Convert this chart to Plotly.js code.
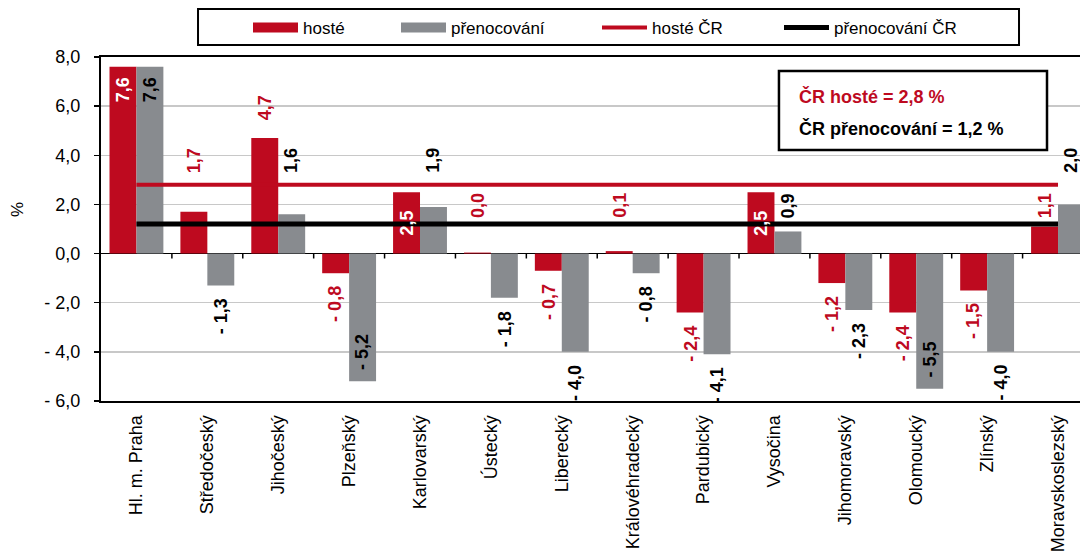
<!DOCTYPE html>
<html>
<head>
<meta charset="utf-8">
<script src="https://cdn.plot.ly/plotly-3.0.1.min.js"></script>
<style>html,body{margin:0;padding:0;background:#fff;}#chart{width:1080px;height:559px;}</style>
</head>
<body>
<div id="chart"></div>
<script>
// ---- data ----
const categories = ["Hl. m. Praha","Středočeský","Jihočeský","Plzeňský","Karlovarský","Ústecký","Liberecký","Královéhradecký","Pardubický","Vysočina","Jihomoravský","Olomoucký","Zlínský","Moravskoslezský"];
const hoste = [7.6, 1.7, 4.7, -0.8, 2.5, 0.04, -0.7, 0.1, -2.4, 2.5, -1.2, -2.4, -1.5, 1.1];
const prenocovani = [7.6, -1.3, 1.6, -5.2, 1.9, -1.8, -4.0, -0.8, -4.1, 0.9, -2.3, -5.5, -4.0, 2.0];
const crHoste = 2.8;
const crPrenocovani = 1.2;
const seriesNames = ["hosté", "přenocování", "hosté ČR", "přenocování ČR"];
const yTickVals = [-6, -4, -2, 0, 2, 4, 6, 8];
const yTickText = ["- 6,0", "- 4,0", "- 2,0", "0,0", "2,0", "4,0", "6,0", "8,0"];
const yTitle = "%";

// ---- styles ----
const RED = "#BE0A1F";
const GRAY = "#888B8F";
const FONT = "Liberation Sans, Arial, sans-serif";
const BARGAP = 0.24;
const legendX = [248, 396, 597, 779]; // px from left of page for each legend entry

function fmt(v) {
  const s = Math.abs(v).toFixed(1).replace(".", ",");
  return v < 0 ? "- " + s : s;
}

function labelSpec(v, s) {
  const insideColor = s === 0 ? "white" : "black";
  const outColor = s === 0 ? RED : "black";
  if (v >= 6) return {y: v, yanchor: "top", yshift: -8, color: insideColor};
  if (v <= -5) return {y: v, yanchor: "bottom", yshift: 9, color: insideColor};
  if (v < 0) return {y: v, yanchor: "top", yshift: -11, color: outColor};
  if (v < crPrenocovani) return {y: crPrenocovani, yanchor: "bottom", yshift: 4, color: outColor};
  if (v < crHoste) {
    if (s === 0 && v >= 2) return {y: v / 2, yanchor: "middle", yshift: 0, color: "white"};
    return {y: crHoste, yanchor: "bottom", yshift: 10, color: outColor};
  }
  return {y: v, yanchor: "bottom", yshift: 16, color: outColor};
}

const traces = [
  {type: "bar", name: seriesNames[0], x: categories, y: hoste, marker: {color: RED}, showlegend: false},
  {type: "bar", name: seriesNames[1], x: categories, y: prenocovani, marker: {color: GRAY}, showlegend: false},
  {type: "scatter", mode: "lines", name: seriesNames[2], x: [categories[0], categories[categories.length - 1]], y: [crHoste, crHoste], line: {color: RED, width: 4}, showlegend: false},
  {type: "scatter", mode: "lines", name: seriesNames[3], x: [categories[0], categories[categories.length - 1]], y: [crPrenocovani, crPrenocovani], line: {color: "black", width: 5}, showlegend: false},
  // legend entries (one legend per entry so spacing matches the original)
  {type: "scatter", mode: "lines", name: seriesNames[0], x: [null], y: [null], line: {color: RED, width: 11}, showlegend: true, legend: "legend"},
  {type: "scatter", mode: "lines", name: seriesNames[1], x: [null], y: [null], line: {color: GRAY, width: 11}, showlegend: true, legend: "legend2"},
  {type: "scatter", mode: "lines", name: seriesNames[2], x: [null], y: [null], line: {color: RED, width: 4}, showlegend: true, legend: "legend3"},
  {type: "scatter", mode: "lines", name: seriesNames[3], x: [null], y: [null], line: {color: "black", width: 5}, showlegend: true, legend: "legend4"}
];

const annotations = [];
const off = (1 - BARGAP) / 4;
[hoste, prenocovani].forEach((arr, s) => {
  arr.forEach((v, i) => {
    const spec = labelSpec(v, s);
    annotations.push({
      x: i + (s === 0 ? -off : off), xref: "x", y: spec.y, yref: "y",
      text: "<b>" + fmt(v) + "</b>", showarrow: false, textangle: -90,
      xanchor: "center", yanchor: spec.yanchor, yshift: spec.yshift,
      font: {family: FONT, size: 18, color: spec.color}
    });
  });
});
annotations.push(
  {xref: "paper", yref: "paper", x: 0.7109, y: 0.8846, xanchor: "left", yanchor: "middle", showarrow: false,
   text: "<b>ČR hosté = " + fmt(crHoste) + " %</b>", font: {family: FONT, size: 18, color: RED}},
  {xref: "paper", yref: "paper", x: 0.7109, y: 0.7936, xanchor: "left", yanchor: "middle", showarrow: false,
   text: "<b>ČR přenocování = " + fmt(crPrenocovani) + " %</b>", font: {family: FONT, size: 18, color: "black"}},
  {xref: "paper", yref: "paper", x: -0.0858, y: 0.555, xanchor: "center", yanchor: "middle", showarrow: false, textangle: -90,
   text: yTitle, font: {family: FONT, size: 17, color: "black"}}
);

const shapes = [];
for (let i = 0; i < categories.length - 1; i++) {
  shapes.push({type: "line", xref: "x", yref: "y", x0: i + 0.5, x1: i + 0.5, y0: 0, y1: -0.2, line: {color: "black", width: 1.5}});
}
shapes.push(
  {type: "rect", xref: "paper", yref: "paper", x0: 0.0991, x1: 0.9377, y0: 1.0349, y1: 1.1395, line: {color: "black", width: 2}, fillcolor: "rgba(0,0,0,0)"},
  {type: "rect", xref: "paper", yref: "paper", x0: 0.6925, x1: 0.9663, y0: 0.7297, y1: 0.9593, line: {color: "black", width: 2.5}, fillcolor: "white", layer: "above"}
);

function legendLayout(px) {
  return {orientation: "h", xref: "container", yref: "container", x: px / 1080, y: 0.95, xanchor: "left", yanchor: "middle",
          bgcolor: "rgba(0,0,0,0)", borderwidth: 0, itemwidth: 45, font: {family: FONT, size: 17, color: "black"}};
}

const layout = {
  width: 1080, height: 559,
  margin: {l: 101, r: 0, t: 57, b: 158, pad: 0},
  paper_bgcolor: "white", plot_bgcolor: "white",
  font: {family: FONT, size: 17, color: "black"},
  barmode: "group", bargap: BARGAP, bargroupgap: 0,
  showlegend: true,
  legend: legendLayout(legendX[0]),
  legend2: legendLayout(legendX[1]),
  legend3: legendLayout(legendX[2]),
  legend4: legendLayout(legendX[3]),
  xaxis: {type: "category", range: [-0.5, 13.31], showline: true, mirror: true, linecolor: "black", linewidth: 2,
          ticks: "", tickangle: -90, ticklabelstandoff: 5, tickfont: {family: FONT, size: 18, color: "black"},
          showgrid: false, zeroline: false, fixedrange: true},
  yaxis: {range: [-6, 8], tickvals: yTickVals, ticktext: yTickText, ticks: "outside", ticklen: 5, tickwidth: 1.5, tickcolor: "black",
          showline: true, linecolor: "black", linewidth: 2, showgrid: true, gridcolor: "#C8C8C8", gridwidth: 1.5,
          zeroline: true, zerolinecolor: "black", zerolinewidth: 1.5, ticklabelstandoff: 10,
          tickfont: {family: FONT, size: 18, color: "black"},
          automargin: false, fixedrange: true},
  annotations: annotations,
  shapes: shapes
};

Plotly.newPlot("chart", traces, layout, {displayModeBar: false, staticPlot: true});
</script>
</body>
</html>
